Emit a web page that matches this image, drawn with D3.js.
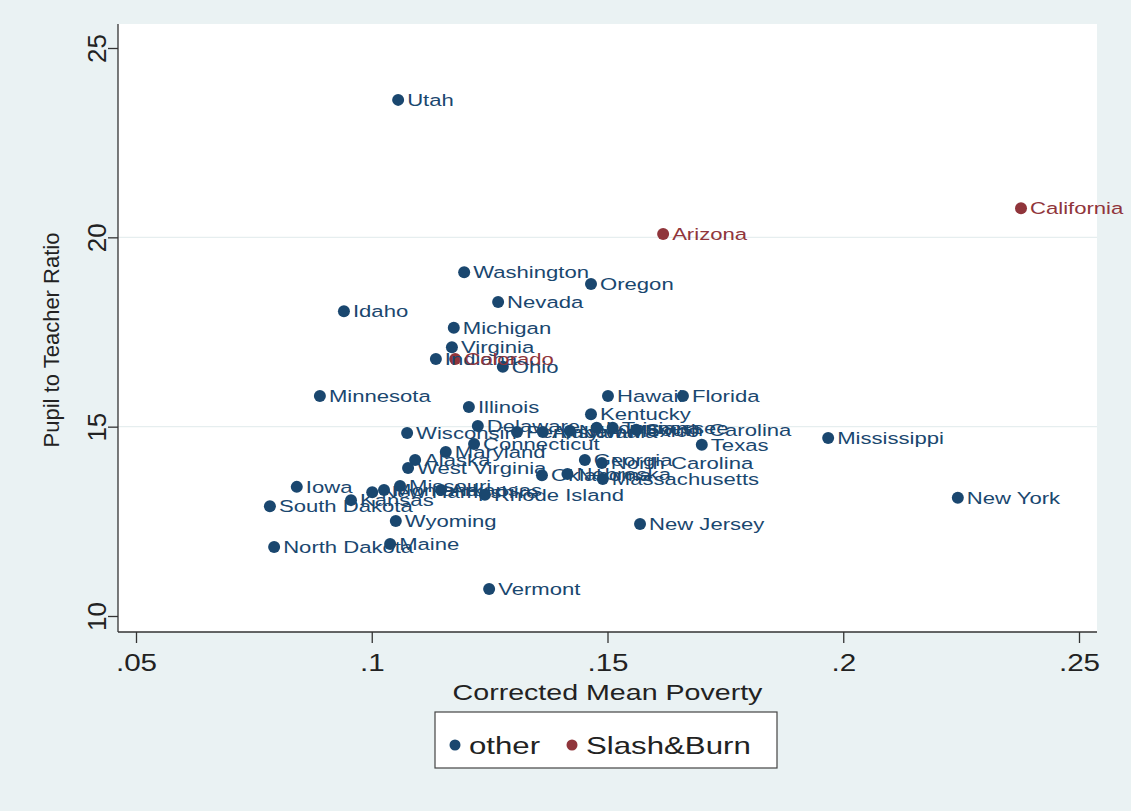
<!DOCTYPE html>
<html>
<head>
<meta charset="utf-8">
<script src="https://cdn.jsdelivr.net/npm/d3@7"></script>
<style>
  html, body { margin: 0; padding: 0; background: #eaf2f3; }
  svg { display: block; }
  text { font-family: "Liberation Sans", Arial, sans-serif; }
</style>
</head>
<body>
<svg id="chart" width="1131" height="811"></svg>
<script>
// State names, corrected mean poverty, pupil/teacher ratio, group
const states = ["Utah","California","Arizona","Washington","Oregon","Nevada","Idaho","Michigan","Virginia","Indiana","Colorado","Ohio","Minnesota","Hawaii","Florida","Illinois","Kentucky","Delaware","Wisconsin","Pennsylvania","Alabama","New Mexico","Louisiana","Tennessee","South Carolina","Connecticut","Maryland","Alaska","West Virginia","Georgia","North Carolina","Oklahoma","Massachusetts","Nebraska","South Dakota","Iowa","North Dakota","Maine","Wyoming","Vermont","New Jersey","New York","Mississippi","Texas","Kansas","New Hampshire","Montana","Missouri","Arkansas","Rhode Island"];
const poverty = [0.1056,0.2377,0.1618,0.1196,0.1465,0.1268,0.0941,0.1174,0.1170,0.1136,0.1177,0.1278,0.0890,0.1501,0.1660,0.1206,0.1465,0.1225,0.1075,0.1308,0.1363,0.1420,0.1477,0.1511,0.1561,0.1217,0.1157,0.1092,0.1077,0.1452,0.1488,0.1361,0.1490,0.1415,0.0784,0.0841,0.0793,0.1039,0.1051,0.1249,0.1569,0.2243,0.1968,0.1700,0.0956,0.1001,0.1026,0.1060,0.1147,0.1240];
const ratio = [23.63,20.77,20.09,19.08,18.77,18.29,18.05,17.61,17.10,16.79,16.79,16.58,15.81,15.81,15.81,15.52,15.33,15.02,14.83,14.86,14.86,14.89,14.97,14.97,14.92,14.54,14.33,14.12,13.91,14.12,14.04,13.72,13.62,13.75,12.90,13.41,11.82,11.90,12.51,10.71,12.43,13.12,14.70,14.52,13.06,13.27,13.33,13.43,13.33,13.20];
const group = ["other","Slash&Burn","Slash&Burn","other","other","other","other","other","other","other","Slash&Burn","other","other","other","other","other","other","other","other","other","other","other","other","other","other","other","other","other","other","other","other","other","other","other","other","other","other","other","other","other","other","other","other","other","other","other","other","other","other","other"];

const xTicks = [0.05, 0.10, 0.15, 0.20, 0.25];
const xTickLabels = [".05", ".1", ".15", ".2", ".25"];
const yTicks = [10, 15, 20, 25];
const groups = ["other", "Slash&Burn"];
const colors = ["#1a476f", "#90353b"];

const svg = d3.select("#chart");
const color = d3.scaleOrdinal().domain(groups).range(colors);
const WIDE = 1.3; // horizontal stretch of the lettering

// plot region
const plot = { left: 118, right: 1097, top: 24, bottom: 632 };
svg.append("rect")
  .attr("x", plot.left).attr("y", plot.top)
  .attr("width", plot.right - plot.left).attr("height", plot.bottom - plot.top)
  .attr("fill", "#ffffff");

const x = d3.scaleLinear().domain([0.05, 0.25]).range([136, 1079]);
const y = d3.scaleLinear().domain([10, 25]).range([616, 48]);

// horizontal grid lines
svg.append("g").selectAll("line").data(yTicks.slice(1, 3)).join("line")
  .attr("x1", plot.left).attr("x2", plot.right)
  .attr("y1", d => y(d)).attr("y2", d => y(d))
  .attr("stroke", "#e6eeef").attr("stroke-width", 1.2);

// axes
const xAxis = d3.axisBottom(x).tickValues(xTicks)
  .tickFormat((d, i) => xTickLabels[i]).tickSizeOuter(0).tickSize(11).tickPadding(11);
const gx = svg.append("g").attr("transform", `translate(0,${plot.bottom})`).call(xAxis);
gx.select(".domain").attr("d", `M${plot.left},0H${plot.right}`);

const yAxis = d3.axisLeft(y).tickValues(yTicks).tickSizeOuter(0).tickSize(10).tickPadding(6);
const gy = svg.append("g").attr("transform", `translate(${plot.left},0)`).call(yAxis);
gy.select(".domain").attr("d", `M0,${plot.top}V${plot.bottom}`);

[gx, gy].forEach(g => {
  g.selectAll(".domain, line").attr("stroke", "#333").attr("stroke-width", 1.3);
  g.selectAll("text").attr("fill", "#222")
    .attr("font-family", "'Liberation Sans', Arial, sans-serif");
});
gx.selectAll(".tick text").attr("font-size", 24)
  .attr("transform", `scale(${WIDE * 0.95},1)`);
gy.selectAll(".tick text")
  .attr("font-size", 26)
  .attr("text-anchor", "middle")
  .attr("transform", "rotate(-90)")
  .attr("x", 0).attr("y", -12).attr("dy", 0);

// axis titles
svg.append("text")
  .attr("transform", `translate(${(136 + 1079) / 2},700) scale(${WIDE},1)`)
  .attr("text-anchor", "middle").attr("font-size", 22).attr("fill", "#222")
  .text("Corrected Mean Poverty");
svg.append("text")
  .attr("transform", `translate(59,${(plot.top + plot.bottom) / 2 + 12}) rotate(-90)`)
  .attr("text-anchor", "middle").attr("font-size", 22).attr("fill", "#222")
  .text("Pupil to Teacher Ratio");

// points with state labels
const data = states.map((s, i) => ({ s, px: poverty[i], r: ratio[i], g: group[i] }));
const pts = svg.append("g");
pts.selectAll("circle").data(data).join("circle")
  .attr("cx", d => x(d.px)).attr("cy", d => y(d.r)).attr("r", 6)
  .attr("fill", d => color(d.g));
pts.selectAll("text").data(data).join("text")
  .attr("transform", d => `translate(${x(d.px) + 9},${y(d.r) + 6}) scale(${WIDE},1)`)
  .attr("font-size", 17).attr("fill", d => color(d.g))
  .text(d => d.s);

// legend
const lg = svg.append("g");
lg.append("rect").attr("x", 435).attr("y", 712).attr("width", 342).attr("height", 56)
  .attr("fill", "#ffffff").attr("stroke", "#444").attr("stroke-width", 1.2);
const items = lg.selectAll("g.item").data(groups).join("g").attr("class", "item")
  .attr("transform", (d, i) => `translate(${i === 0 ? 455 : 572},745)`);
items.append("circle").attr("r", 5.5).attr("cx", 0).attr("cy", 0).attr("fill", d => color(d));
items.append("text").attr("transform", `translate(14,9) scale(${WIDE},1)`)
  .attr("font-size", 24).attr("fill", "#222")
  .text(d => d);
</script>
</body>
</html>
